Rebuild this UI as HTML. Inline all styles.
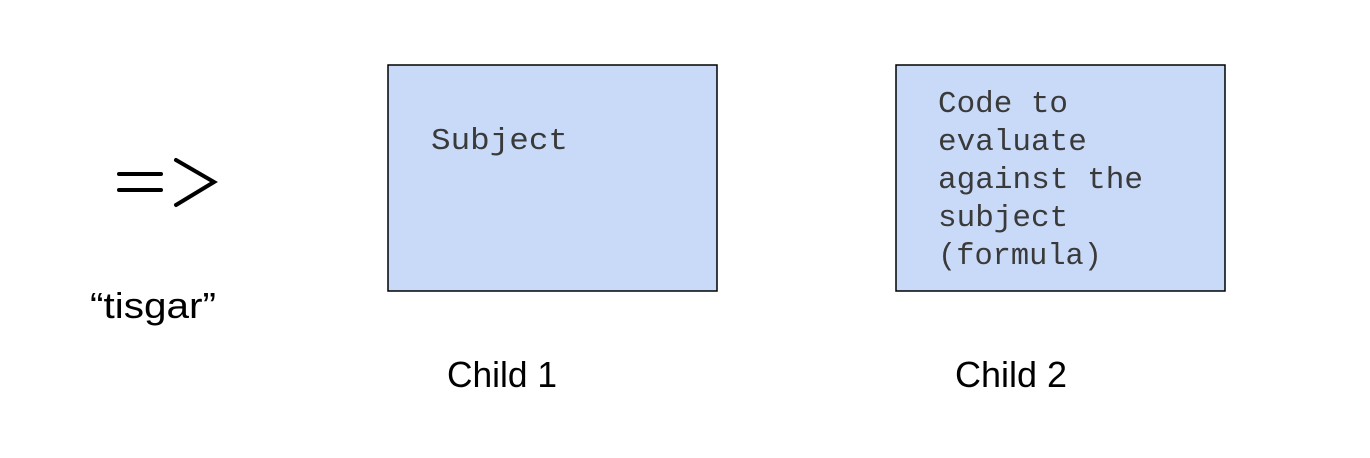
<!DOCTYPE html>
<html><head><meta charset="utf-8"><style>html,body{margin:0;padding:0;background:#fff;}svg{display:block}</style></head>
<body>
<svg width="1370" height="458" viewBox="0 0 1370 458" xmlns="http://www.w3.org/2000/svg">
<rect width="1370" height="458" fill="#fff"/>
<rect x="388" y="65" width="329" height="226" fill="#c9daf8" stroke="#000" stroke-width="1.5"/>
<rect x="896" y="65" width="329" height="226" fill="#c9daf8" stroke="#000" stroke-width="1.5"/>
<g font-family="Liberation Mono, monospace" font-size="31" fill="#3a3a3a">
<text x="431" y="149" textLength="137" lengthAdjust="spacingAndGlyphs">Subject</text>
<text x="938" y="112" textLength="130" lengthAdjust="spacingAndGlyphs">Code to</text>
<text x="938" y="150">evaluate</text>
<text x="938" y="188" textLength="205" lengthAdjust="spacingAndGlyphs">against the</text>
<text x="938" y="226">subject</text>
<text x="938" y="264" textLength="164" lengthAdjust="spacingAndGlyphs">(formula)</text>
</g>
<g stroke="#000" stroke-width="4" stroke-linecap="round" fill="none">
<line x1="119" y1="174" x2="161" y2="174"/>
<line x1="119" y1="190" x2="161" y2="190"/>
<polyline points="176,160 214,182 176,205"/>
</g>
<g font-family="Liberation Sans, sans-serif" fill="#000">
<text x="90" y="318" font-size="36" textLength="126" lengthAdjust="spacingAndGlyphs">“tisgar”</text>
<text x="447" y="387" font-size="36" textLength="110" lengthAdjust="spacingAndGlyphs">Child 1</text>
<text x="955" y="387" font-size="36" textLength="112" lengthAdjust="spacingAndGlyphs">Child 2</text>
</g>
</svg>
</body></html>
